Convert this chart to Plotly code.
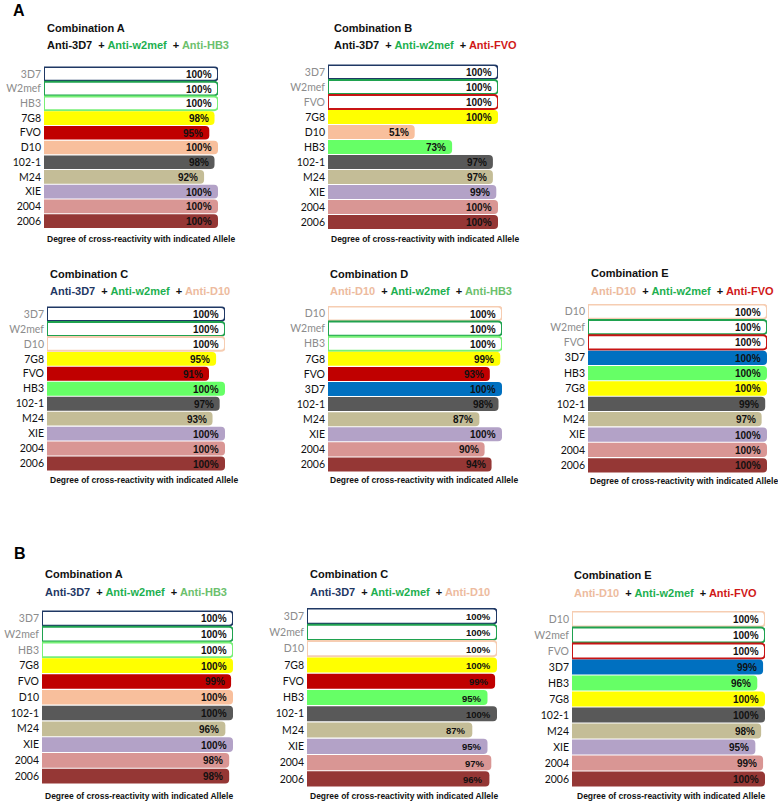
import plotly.graph_objects as go

W, H = 778, 802

# ---------------- data ----------------
AA_alleles = ["3D7", "W2mef", "HB3", "7G8", "FVO", "D10", "102-1", "M24", "XIE", "2004", "2006"]
AA_values = [100, 100, 100, 98, 95, 100, 98, 92, 100, 100, 100]

AB_alleles = ["3D7", "W2mef", "FVO", "7G8", "D10", "HB3", "102-1", "M24", "XIE", "2004", "2006"]
AB_values = [100, 100, 100, 100, 51, 73, 97, 97, 99, 100, 100]

AC_alleles = ["3D7", "W2mef", "D10", "7G8", "FVO", "HB3", "102-1", "M24", "XIE", "2004", "2006"]
AC_values = [100, 100, 100, 95, 91, 100, 97, 93, 100, 100, 100]

AD_alleles = ["D10", "W2mef", "HB3", "7G8", "FVO", "3D7", "102-1", "M24", "XIE", "2004", "2006"]
AD_values = [100, 100, 100, 99, 93, 100, 98, 87, 100, 90, 94]

AE_alleles = ["D10", "W2mef", "FVO", "3D7", "HB3", "7G8", "102-1", "M24", "XIE", "2004", "2006"]
AE_values = [100, 100, 100, 100, 100, 100, 99, 97, 100, 100, 100]

BA_alleles = ["3D7", "W2mef", "HB3", "7G8", "FVO", "D10", "102-1", "M24", "XIE", "2004", "2006"]
BA_values = [100, 100, 100, 100, 99, 100, 100, 96, 100, 98, 98]

BC_alleles = ["3D7", "W2mef", "D10", "7G8", "FVO", "HB3", "102-1", "M24", "XIE", "2004", "2006"]
BC_values = [100, 100, 100, 100, 99, 95, 100, 87, 95, 97, 96]

BE_alleles = ["D10", "W2mef", "FVO", "3D7", "HB3", "7G8", "102-1", "M24", "XIE", "2004", "2006"]
BE_values = [100, 100, 100, 99, 96, 100, 100, 98, 95, 99, 100]

titles = ["Combination A", "Combination B", "Combination C", "Combination D", "Combination E",
          "Combination A", "Combination C", "Combination E"]
antibodies = [
    ["Anti-3D7", "Anti-w2mef", "Anti-HB3"],
    ["Anti-3D7", "Anti-w2mef", "Anti-FVO"],
    ["Anti-3D7", "Anti-w2mef", "Anti-D10"],
    ["Anti-D10", "Anti-w2mef", "Anti-HB3"],
    ["Anti-D10", "Anti-w2mef", "Anti-FVO"],
    ["Anti-3D7", "Anti-w2mef", "Anti-HB3"],
    ["Anti-3D7", "Anti-w2mef", "Anti-D10"],
    ["Anti-D10", "Anti-w2mef", "Anti-FVO"],
]
axis_caption = "Degree of cross-reactivity with indicated Allele"
panel_letters = ["A", "B"]

# ---------------- styles ----------------
FILL = {
    "3D7": "#0070C0", "W2mef": "#00A651", "HB3": "#66FF66", "7G8": "#FFFF00",
    "FVO": "#C00000", "D10": "#F8BF9C", "102-1": "#595959", "M24": "#C4BD97",
    "XIE": "#B3A2C7", "2004": "#D99694", "2006": "#953735",
}
OUTLINE = {
    "3D7": "#1F3864", "W2mef": "#1FA24F", "HB3": "#77F077", "FVO": "#C81414", "D10": "#F6CDB2",
}
ANTI_COLOR = {
    "Anti-3D7": "#1F3864", "Anti-w2mef": "#1DB050", "Anti-HB3": "#6CC06C",
    "Anti-FVO": "#D01818", "Anti-D10": "#EDBB9E",
}

# layout (pixel) per panel: bar start x, 100% x, top y, bottom y, title x, title y, subtitle y, caption x, caption y
geom = [
    (44, 218, 66.5, 228.5, 45, 28, 45, 45, 239),
    (328, 498, 64.5, 229.5, 332, 28, 45, 329, 239),
    (47, 225, 306.5, 471, 48, 274, 291, 48, 480),
    (328, 502, 306, 472, 328, 274, 291, 328, 480),
    (588, 767, 304, 473, 589, 273, 291, 588, 481),
    (42, 233, 610.5, 784, 43, 574, 592, 43, 796),
    (307, 497, 608, 787, 308, 574, 592, 308, 796),
    (572, 765, 611, 787, 572, 575, 593, 575, 796),
]
anti3d7_black = [True, True, False, False, False, False, False, False]
value_font_size = [10, 10, 10, 10, 10, 10, 9.5, 10]

datasets = [
    (AA_alleles, AA_values), (AB_alleles, AB_values), (AC_alleles, AC_values),
    (AD_alleles, AD_values), (AE_alleles, AE_values), (BA_alleles, BA_values),
    (BC_alleles, BC_values), (BE_alleles, BE_values),
]

fig = go.Figure()
layout = dict(
    width=W, height=H, margin=dict(l=0, r=0, t=0, b=0),
    paper_bgcolor="white", plot_bgcolor="white", showlegend=False,
    bargap=0.07, annotations=[],
)

TICK_FONT = dict(family="Lato, Liberation Sans, sans-serif", size=10.5, color="#111111")
ARIAL = "Liberation Sans, Arial, sans-serif"

for i, ((alleles, values), g) in enumerate(zip(datasets, geom)):
    x0, x1, y0, y1, tx, ty, sy, cx, cy = g
    n = len(alleles)
    xa = "x" if i == 0 else f"x{i+1}"
    ya = "y" if i == 0 else f"y{i+1}"
    xkey = "xaxis" if i == 0 else f"xaxis{i+1}"
    ykey = "yaxis" if i == 0 else f"yaxis{i+1}"

    fills, lines, widths = [], [], []
    for k, a in enumerate(alleles):
        if k < 3:
            fills.append("white")
            lines.append(OUTLINE[a])
            widths.append(2)
        else:
            fills.append(FILL[a])
            lines.append(FILL[a])
            widths.append(0)

    fig.add_trace(go.Bar(
        orientation="h", x=values, y=alleles, xaxis=xa, yaxis=ya,
        marker=dict(color=fills, line=dict(color=lines, width=widths), cornerradius=4),
        cliponaxis=False, hoverinfo="skip",
    ))

    # value labels at bar ends (category index positions)
    for k, v in enumerate(values):
        layout["annotations"].append(dict(
            text=f"{v}%", xref=xa, yref=ya, x=v, y=k, xanchor="right", yanchor="middle",
            xshift=-4, yshift=-0.5, showarrow=False,
            font=dict(family=ARIAL, size=value_font_size[i], color="#111111", weight="bold"),
        ))

    ticktext = []
    for k, a in enumerate(alleles):
        col = "#8C8C8C" if k < 3 else "#111111"
        ticktext.append(f"<span style='color:{col}'>{a}</span>")

    layout[xkey] = dict(domain=[x0 / W, x1 / W], range=[0, 100], visible=False,
                        anchor=ya, fixedrange=True)
    layout[ykey] = dict(domain=[1 - y1 / H, 1 - y0 / H], type="category",
                        categoryorder="array", categoryarray=alleles,
                        range=[n - 0.5, -0.5],
                        tickmode="array", tickvals=list(range(n)), ticktext=ticktext,
                        tickfont=TICK_FONT, showgrid=False, zeroline=False, showline=False,
                        ticks="", ticklabelstandoff=2, anchor=xa, fixedrange=True)

    # title
    layout["annotations"].append(dict(
        text=titles[i], xref="paper", yref="paper", x=tx / W, y=1 - ty / H,
        xanchor="left", yanchor="middle", showarrow=False,
        font=dict(family=ARIAL, size=11, color="#111111", weight="bold"),
    ))
    # subtitle
    parts = []
    for a in antibodies[i]:
        col = ANTI_COLOR[a]
        if a == "Anti-3D7" and anti3d7_black[i]:
            col = "#111111"
        parts.append(f"<span style='color:{col}'>{a}</span>")
    sub = "&nbsp; + ".join(parts)
    layout["annotations"].append(dict(
        text=sub, xref="paper", yref="paper", x=tx / W, y=1 - sy / H,
        xanchor="left", yanchor="middle", showarrow=False,
        font=dict(family=ARIAL, size=11, color="#111111", weight="bold"),
    ))
    # caption
    layout["annotations"].append(dict(
        text=axis_caption, xref="paper", yref="paper", x=cx / W, y=1 - cy / H,
        xanchor="left", yanchor="middle", showarrow=False,
        font=dict(family=ARIAL, size=8.5, color="#111111", weight="bold"),
    ))

for letter, (lx, ly) in zip(panel_letters, [(19, 10), (20, 553)]):
    layout["annotations"].append(dict(
        text=letter, xref="paper", yref="paper", x=lx / W, y=1 - ly / H,
        xanchor="center", yanchor="middle", showarrow=False,
        font=dict(family=ARIAL, size=16, color="#000000", weight="bold"),
    ))

fig.update_layout(**layout)
fig.write_html("out.html", config={"displayModeBar": False},
               post_script="document.body.style.margin='0';")
